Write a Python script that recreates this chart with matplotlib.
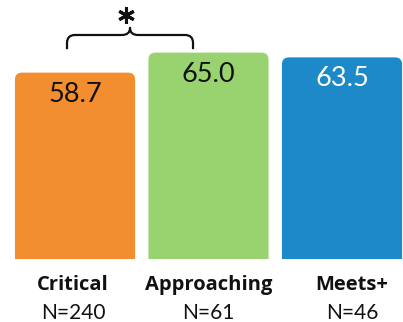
import matplotlib
matplotlib.use("Agg")
import matplotlib.pyplot as plt
from matplotlib.path import Path
from matplotlib.patches import PathPatch

plt.rcParams['font.family'] = ['Lato', 'DejaVu Sans']

groups = ['Critical', 'Approaching', 'Meets+']
counts = [240, 61, 46]
scores = [58.7, 65.0, 63.5]
colors = ['#F28E2F', '#99D36F', '#1E89C9']
value_colors = ['#111111', '#111111', '#ffffff']

W, H = 403, 322
fig = plt.figure(figsize=(W / 100, H / 100), dpi=100)
ax = fig.add_axes([0, 0, 1, 1])
ax.set_xlim(-0.562, 2.457)
ax.set_ylim(-19.84, 81.57)
ax.axis('off')

# px -> data unit conversion
px_x = 3.019 / W
px_y = 101.41 / H

bar_w = 0.9
label_dx = [-2, 0, 10]


def top_rounded_bar(x, h, w, rx, ry, color):
    l, r = x - w / 2, x + w / 2
    verts = [(l, 0), (l, h - ry), (l, h), (l + rx, h), (r - rx, h),
             (r, h), (r, h - ry), (r, 0), (l, 0)]
    codes = [Path.MOVETO, Path.LINETO, Path.CURVE3, Path.CURVE3, Path.LINETO,
             Path.CURVE3, Path.CURVE3, Path.LINETO, Path.CLOSEPOLY]
    ax.add_patch(PathPatch(Path(verts, codes), fc=color, ec='none'))


for i, (g, n, v) in enumerate(zip(groups, counts, scores)):
    top_rounded_bar(i, v, bar_w, 7 * px_x, 7 * px_y, colors[i])
    ax.annotate(f"{v:.1f}", (i, v), xytext=(0, -29), textcoords='offset pixels',
                ha='center', va='baseline', fontsize=19.5, color=value_colors[i])
    ax.annotate(g, (i, 0), xytext=(label_dx[i], -31), textcoords='offset pixels',
                ha='center', va='baseline', fontsize=14.5, fontweight='bold',
                family=['Open Sans', 'DejaVu Sans'], color='#111111')
    ax.annotate(f"N={n}", (i, 0), xytext=(label_dx[i], -60), textcoords='offset pixels',
                ha='center', va='baseline', fontsize=15, color='#111111')

# curly brace over the first two bars
bx0, bx1 = -0.06, 0.884
bm = (bx0 + bx1) / 2
y_end = 66.1
y_mid = 70.55
y_tip = 72.8
rx, ry = 8 * px_x, 8 * px_y
cx = 8 * px_x
verts = [
    (bx0, y_end), (bx0, y_mid - ry),
    (bx0, y_mid), (bx0 + rx, y_mid),
    (bm - cx, y_mid),
    (bm, y_mid), (bm, y_tip),
    (bm, y_mid), (bm + cx, y_mid),
    (bx1 - rx, y_mid),
    (bx1, y_mid), (bx1, y_mid - ry),
    (bx1, y_end),
]
codes = [Path.MOVETO, Path.LINETO,
         Path.CURVE3, Path.CURVE3,
         Path.LINETO,
         Path.CURVE3, Path.CURVE3,
         Path.CURVE3, Path.CURVE3,
         Path.LINETO,
         Path.CURVE3, Path.CURVE3,
         Path.LINETO]
ax.add_patch(PathPatch(Path(verts, codes), fc='none', ec='#111111', lw=1.6,
                       capstyle='butt', joinstyle='round'))
ax.plot([bm - 0.03], [76.9], marker=(6, 2, 0), ms=12, mew=2.2, color='#111111')

fig.savefig('out.png', dpi=100)
